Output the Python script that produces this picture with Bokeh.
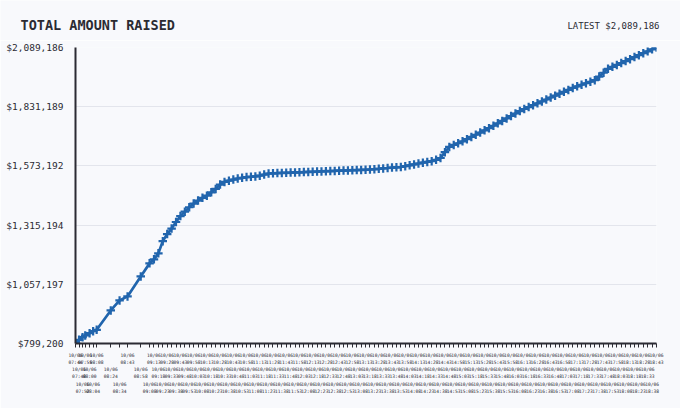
from bokeh.plotting import figure
from bokeh.models import FixedTicker, Label
from bokeh.embed import file_html
from bokeh.resources import INLINE

day = "10/06"
times = [
    "07:44", "07:48", "07:52", "07:55", "08:00", "08:04", "08:08", "08:24", "08:34", "08:43", "08:58", "09:08",
    "09:13", "09:18", "09:23", "09:28", "09:33", "09:38", "09:43", "09:48", "09:53", "09:58",
    "10:03", "10:08", "10:13", "10:18", "10:23", "10:28", "10:33", "10:38", "10:43", "10:48", "10:53", "10:58",
    "11:03", "11:08", "11:13", "11:18", "11:23", "11:28", "11:33", "11:38", "11:43", "11:48", "11:53", "11:58",
    "12:03", "12:08", "12:13", "12:18", "12:23", "12:28", "12:33", "12:38", "12:43", "12:48", "12:53", "12:58",
    "13:03", "13:08", "13:13", "13:18", "13:23", "13:28", "13:33", "13:38", "13:43", "13:48", "13:53", "13:58",
    "14:03", "14:08", "14:13", "14:18", "14:23", "14:28", "14:33", "14:38", "14:43", "14:48", "14:53", "14:58",
    "15:03", "15:08", "15:13", "15:18", "15:23", "15:28", "15:33", "15:38", "15:43", "15:48", "15:53", "15:58",
    "16:03", "16:08", "16:13", "16:18", "16:23", "16:28", "16:33", "16:38", "16:43", "16:48", "16:53", "16:58",
    "17:03", "17:08", "17:13", "17:18", "17:23", "17:28", "17:33", "17:38", "17:43", "17:48", "17:53", "17:58",
    "18:03", "18:08", "18:13", "18:18", "18:23", "18:28", "18:33", "18:38", "18:43",
]
amounts = [
    799200, 815350, 826700, 834100, 844200, 852900, 859000, 943300, 986900, 1004400, 1091700, 1148400,
    1165900, 1192100, 1245300, 1275900, 1299900, 1328700, 1354500, 1373700, 1392900, 1409000,
    1422100, 1433900, 1443500, 1457900, 1472800, 1492000, 1503300, 1509000, 1513400, 1518200, 1521200, 1524300,
    1526000, 1527300, 1530400, 1535600, 1540000, 1540900, 1541800, 1542600, 1543100, 1543900, 1544800, 1545200,
    1546100, 1547000, 1547400, 1548300, 1549200, 1550000, 1550500, 1551400, 1552200, 1552700, 1553500, 1554400,
    1554900, 1555700, 1556200, 1557500, 1558800, 1560500, 1562300, 1564000, 1565800, 1567100, 1568400, 1571900,
    1575800, 1579700, 1583700, 1587200, 1590600, 1593700, 1599800, 1607700, 1633000, 1655700, 1664400, 1671800,
    1680100, 1689700, 1699300, 1708900, 1718600, 1728200, 1737800, 1748200, 1758700, 1769200, 1780100, 1790600,
    1801500, 1812000, 1821100, 1829400, 1837700, 1846000, 1854300, 1862600, 1871300, 1879200, 1887900, 1896200,
    1904500, 1912800, 1919800, 1926800, 1933300, 1939900, 1946900, 1962600, 1979200, 1996200, 2004900, 2013200,
    2021500, 2030200, 2038500, 2047300, 2055600, 2064300, 2072600, 2081300, 2089186,
]
y_ticks = [799200, 1057197, 1315194, 1573192, 1831189, 2089186]
y_tick_labels = ["$799,200", "$1,057,197", "$1,315,194", "$1,573,192", "$1,831,189", "$2,089,186"]
title_text = "TOTAL AMOUNT RAISED"
latest_text = "LATEST $2,089,186"

xs = [int(t[:2]) * 60 + int(t[3:]) for t in times]

FONT = "DejaVu Sans Mono"
INK = "#2b2b33"
BLUE = "#2165ad"
BG = "#f8f9fc"

W, HH, H = 680, 40, 368

# header strip holding the two texts (separate root, so its frame is the whole strip)
head = figure(width=W, height=HH, output_backend="svg", toolbar_location=None,
              x_range=(0, W), y_range=(0, HH), min_border=0,
              x_axis_location=None, y_axis_location=None)
head.grid.visible = False
head.outline_line_color = None
head.background_fill_color = BG
head.border_fill_color = BG
head.add_layout(Label(x=20, y=16, text=title_text, text_font=FONT, text_font_size="13.5px",
                      text_font_style="bold", text_color=INK, text_baseline="alphabetic"))
head.add_layout(Label(x=659, y=15, text=latest_text, text_font=FONT, text_font_size="9px",
                      text_color=INK, text_align="right", text_baseline="alphabetic"))

p = figure(width=W, height=H, output_backend="svg", toolbar_location=None,
           x_range=(xs[0], xs[-1]), y_range=(y_ticks[0], y_ticks[-1]),
           min_border_left=75, min_border_right=24, min_border_top=7, min_border_bottom=65)
p.background_fill_color = BG
p.border_fill_color = BG
p.outline_line_color = None

p.line(xs, amounts, line_color=BLUE, line_width=2.7)
p.scatter(xs, amounts, marker="cross", size=8.5, line_color=BLUE, line_width=2.2)

p.xgrid.visible = False
p.ygrid.ticker = FixedTicker(ticks=y_ticks)
p.ygrid.grid_line_color = "#e3e5ec"
p.ygrid.grid_line_width = 1

ya = p.yaxis[0]
ya.ticker = FixedTicker(ticks=y_ticks)
ya.major_label_overrides = {v: s for v, s in zip(y_ticks, y_tick_labels)}
ya.major_tick_out = 0
ya.major_tick_in = 0
ya.minor_tick_out = 0
ya.minor_tick_in = 0
ya.major_label_standoff = 12
ya.axis_line_color = INK
ya.axis_line_width = 2
ya.major_label_text_font = FONT
ya.major_label_text_font_size = "9.5px"
ya.major_label_text_color = INK

xa = p.xaxis[0]
xa.ticker = FixedTicker(ticks=xs)
xa.major_label_overrides = {x: ("\u00a0\n\u00a0\n" * (i % 3)) + day + "\n" + t
                            for i, (x, t) in enumerate(zip(xs, times))}
xa.major_tick_out = 4
xa.major_tick_in = 0
xa.minor_tick_out = 0
xa.minor_tick_in = 0
xa.major_tick_line_color = INK
xa.axis_line_color = INK
xa.axis_line_width = 2
xa.major_label_standoff = 5
xa.major_label_text_font = FONT
xa.major_label_text_font_size = "4.6px"
xa.major_label_text_color = INK
xa.major_label_text_line_height = 1.45

open("out.html", "w").write(file_html([head, p], INLINE))
